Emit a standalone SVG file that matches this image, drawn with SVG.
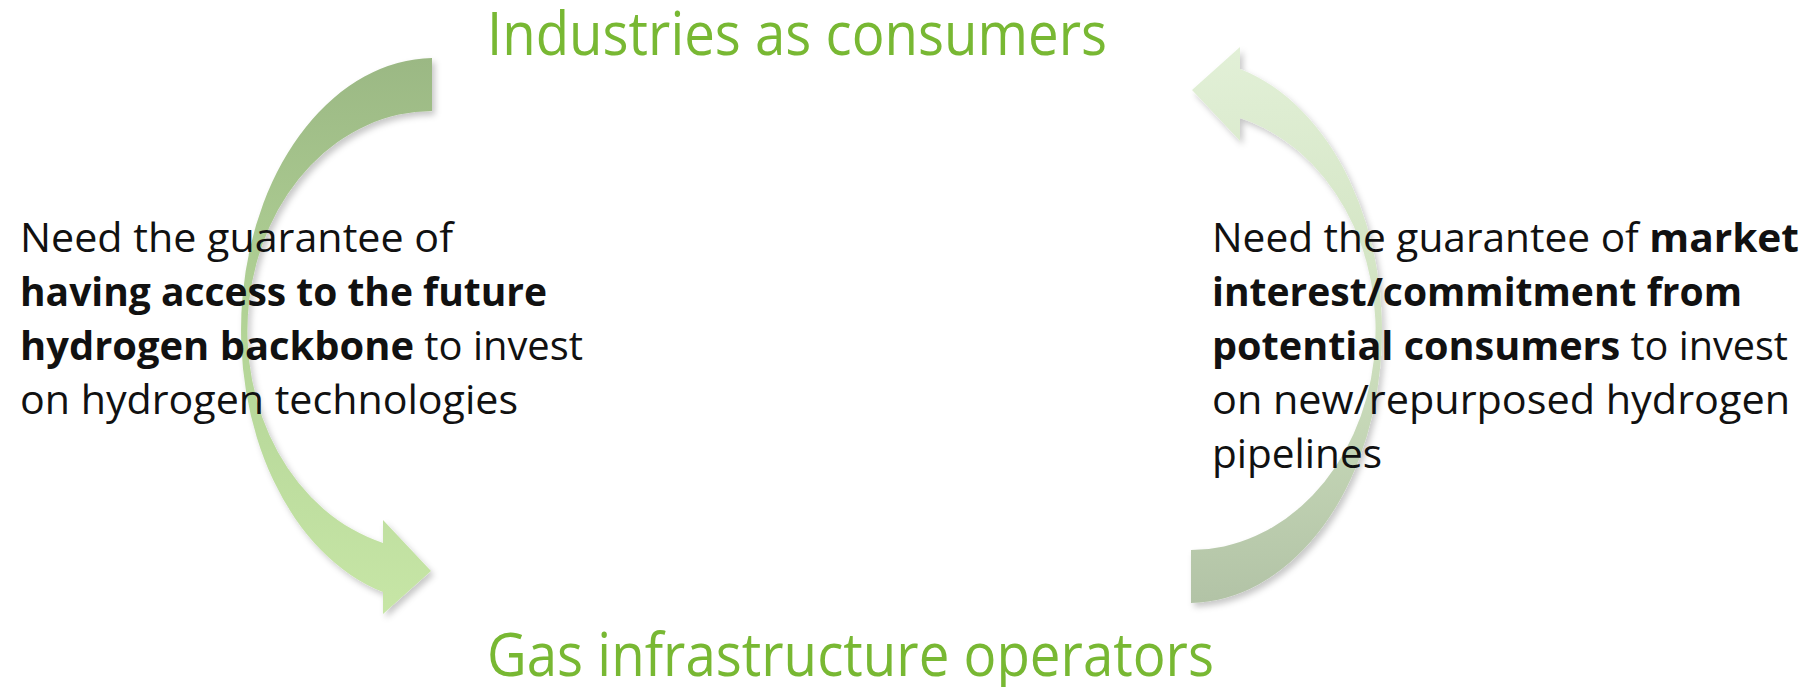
<svg xmlns="http://www.w3.org/2000/svg" width="1818" height="687" viewBox="0 0 1818 687">
  <style>
    .title { font-family: "Open Sans", "Liberation Sans", sans-serif; font-size: 61px; fill: #78B833; }
    .body { font-family: "Open Sans", "Liberation Sans", sans-serif; font-size: 40px; fill: #111111; }
    .b { font-weight: bold; }
  </style>
  <defs>
    <linearGradient id="gLeft" x1="0" y1="0" x2="0" y2="1">
      <stop offset="0" stop-color="#9BB884"/>
      <stop offset="0.5" stop-color="#B3D497"/>
      <stop offset="1" stop-color="#C7E6A6"/>
    </linearGradient>
    <linearGradient id="gRight" x1="0" y1="0" x2="0" y2="1">
      <stop offset="0" stop-color="#B2C3A6"/>
      <stop offset="0.5" stop-color="#D0E2C0"/>
      <stop offset="1" stop-color="#E2F0D7"/>
    </linearGradient>
    <filter id="shadow" x="-20%" y="-20%" width="140%" height="140%">
      <feDropShadow dx="3" dy="4" stdDeviation="3" flood-color="#000000" flood-opacity="0.22"/>
    </filter>
  </defs>

  <g id="connectors">
    <g id="arrow-left" filter="url(#shadow)">
      <path fill="url(#gLeft)" d="M 432 58 A 194 272 0 0 0 383 592 L 383 614 L 431 571 L 383 520 L 383 543 A 185 220 0 0 1 432 111 Z"/>
    </g>
    <g id="arrow-right" filter="url(#shadow)">
      <path fill="url(#gRight)" transform="rotate(180 811.5 330.5)" d="M 432 58 A 194 272 0 0 0 383 592 L 383 614 L 431 571 L 383 520 L 383 543 A 185 220 0 0 1 432 111 Z"/>
    </g>
  </g>

  <g id="node-industries">
    <text class="title" x="487" y="55" textLength="620" lengthAdjust="spacingAndGlyphs">Industries as consumers</text>
  </g>

  <g id="node-gas-operators">
    <text class="title" x="487" y="676" textLength="727" lengthAdjust="spacingAndGlyphs">Gas infrastructure operators</text>
  </g>

  <g id="note-left">
    <text class="body" x="20" y="252" textLength="433" lengthAdjust="spacingAndGlyphs">Need the guarantee of</text>
    <text class="body" x="20" y="306" textLength="527" lengthAdjust="spacingAndGlyphs"><tspan class="b">having access to the future</tspan></text>
    <text class="body" x="20" y="360" textLength="563" lengthAdjust="spacingAndGlyphs"><tspan class="b">hydrogen backbone</tspan> to invest</text>
    <text class="body" x="20" y="414" textLength="498" lengthAdjust="spacingAndGlyphs">on hydrogen technologies</text>
  </g>

  <g id="note-right">
    <text class="body" x="1212" y="252" textLength="587" lengthAdjust="spacingAndGlyphs">Need the guarantee of <tspan class="b">market</tspan></text>
    <text class="body" x="1212" y="306" textLength="530" lengthAdjust="spacingAndGlyphs"><tspan class="b">interest/commitment from</tspan></text>
    <text class="body" x="1212" y="360" textLength="576" lengthAdjust="spacingAndGlyphs"><tspan class="b">potential consumers</tspan> to invest</text>
    <text class="body" x="1212" y="414" textLength="578" lengthAdjust="spacingAndGlyphs">on new/repurposed hydrogen</text>
    <text class="body" x="1212" y="468" textLength="170" lengthAdjust="spacingAndGlyphs">pipelines</text>
  </g>
</svg>
